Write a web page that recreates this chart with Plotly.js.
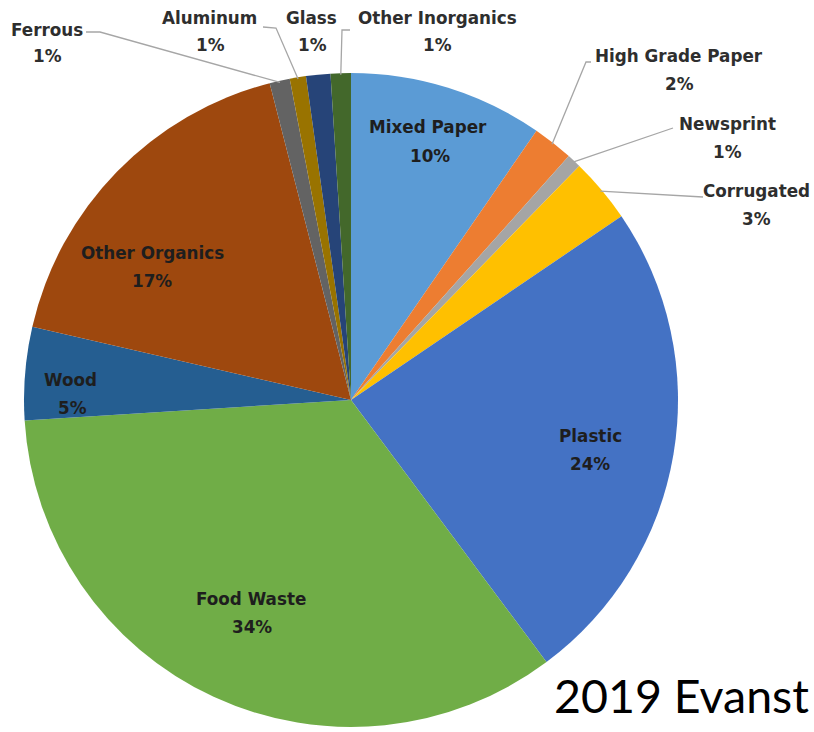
<!DOCTYPE html>
<html>
<head>
<meta charset="utf-8">
<script src="https://cdn.plot.ly/plotly-3.0.1.min.js"></script>
<style>
  html, body { margin: 0; padding: 0; background: #ffffff; }
  #chart { width: 814px; height: 732px; }
</style>
</head>
<body>
<div id="chart"></div>
<script>
// ---- data (clockwise from 12 o'clock) ----
const categories = ["Mixed Paper", "High Grade Paper", "Newsprint", "Corrugated", "Plastic",
                    "Food Waste", "Wood", "Other Organics", "Ferrous", "Aluminum", "Glass", "Other Inorganics"];
const shares = [9.6, 2.0, 0.7, 3.2, 24.3, 34.2, 4.6, 17.4, 1.0, 0.8, 1.2, 1.0];
const sliceColors = ["#5B9BD5", "#ED7D31", "#A5A5A5", "#FFC000", "#4472C4",
                     "#70AD47", "#255E91", "#9E480E", "#636363", "#997300", "#264478", "#43682B"];

// ---- layout / style (pixels in the 814x732 page) ----
const W = 814, H = 732;
const CX = 351, CY = 400, R = 327;
// label centres: [nameX, nameY, pctX, pctY]
const labelPos = {
  "Mixed Paper":      [428, 127, 430, 156],
  "High Grade Paper": [679, 56, 679, 84],
  "Newsprint":        [727, 124, 727, 152],
  "Corrugated":       [756, 191, 756, 219],
  "Plastic":          [590, 436, 590, 464],
  "Food Waste":       [251, 599, 252, 627],
  "Wood":             [70, 380, 72, 408],
  "Other Organics":   [152, 253, 152, 281],
  "Ferrous":          [47, 30, 47, 56],
  "Aluminum":         [209, 18, 210, 45],
  "Glass":            [311, 18, 312, 45],
  "Other Inorganics": [438, 18, 438, 45]
};
// leader line start points (label side); slice end computed from the data
const leaderStart = {
  "Ferrous":          [[86, 32], [100, 32]],
  "Aluminum":         [[263, 27], [276, 28]],
  "Other Inorganics": [[350, 30], [342, 30]],
  "High Grade Paper": [[591, 62], [586, 62]],
  "Newsprint":        [[673, 128]],
  "Corrugated":       [[703, 197]]
};

const px = x => x / W;
const py = y => 1 - y / H;

const total = shares.reduce((a, b) => a + b, 0);
const pctText = shares.map(v => Math.round(v / total * 100) + "%");

const annotations = [];
const shapes = [];
let cum = 0;
categories.forEach((cat, i) => {
  const mid = (cum + shares[i] / 2) / total * 2 * Math.PI;
  cum += shares[i];
  const inside = shares[i] >= 4;
  const col = inside ? "#1e1e1e" : "#2e2e2e";
  const p = labelPos[cat];
  const font = { family: "'DejaVu Sans', sans-serif", size: 16.8, color: col };
  annotations.push({ x: px(p[0]), y: py(p[1]), xref: "paper", yref: "paper", text: "<b>" + cat + "</b>",
                     showarrow: false, xanchor: "center", yanchor: "middle", font: font });
  annotations.push({ x: px(p[2]), y: py(p[3]), xref: "paper", yref: "paper", text: "<b>" + pctText[i] + "</b>",
                     showarrow: false, xanchor: "center", yanchor: "middle", font: font });
  if (leaderStart[cat]) {
    const pts = leaderStart[cat].slice();
    pts.push([CX + R * 0.995 * Math.sin(mid), CY - R * 0.995 * Math.cos(mid)]);
    const path = pts.map((q, k) => (k ? "L" : "M") + px(q[0]).toFixed(5) + "," + py(q[1]).toFixed(5)).join(" ");
    shapes.push({ type: "path", xref: "paper", yref: "paper", path: path,
                  line: { color: "#A6A6A6", width: 1.3 } });
  }
});

annotations.push({ x: px(552), y: py(695), xref: "paper", yref: "paper", text: "2019 Evanst",
                   showarrow: false, xanchor: "left", yanchor: "middle",
                   font: { family: "Lato, sans-serif", size: 46.5, color: "#000000" } });

const trace = {
  type: "pie",
  labels: categories,
  values: shares,
  sort: false,
  direction: "clockwise",
  rotation: 0,
  marker: { colors: sliceColors, line: { width: 0 } },
  textinfo: "none",
  hoverinfo: "none",
  showlegend: false,
  domain: { x: [px(CX - R), px(CX + R)], y: [py(CY + R), py(CY - R)] }
};

const layout = {
  width: W, height: H,
  margin: { l: 0, r: 0, t: 0, b: 0 },
  paper_bgcolor: "#ffffff",
  plot_bgcolor: "#ffffff",
  showlegend: false,
  annotations: annotations,
  shapes: shapes
};

Plotly.newPlot("chart", [trace], layout, { displayModeBar: false, staticPlot: true });
</script>
</body>
</html>
